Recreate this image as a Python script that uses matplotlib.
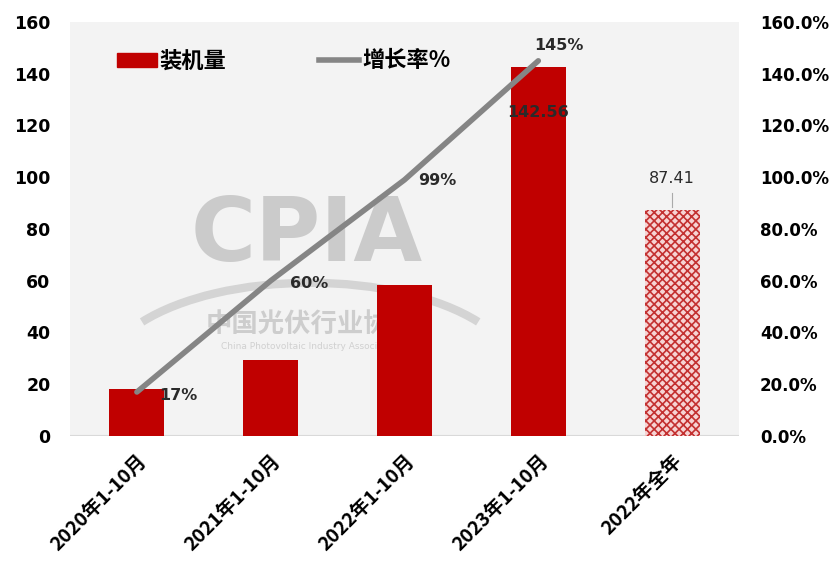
import matplotlib
matplotlib.use("Agg")
import matplotlib.pyplot as plt
import matplotlib.ticker as ticker
from matplotlib.patches import Arc
import numpy as np

plt.rcParams["font.family"] = ["Noto Sans CJK SC", "DejaVu Sans"]
plt.rcParams["hatch.linewidth"] = 1.2

# installed capacity (GW) and year-on-year growth
categories = ["2020年1-10月", "2021年1-10月", "2022年1-10月", "2023年1-10月", "2022年全年"]
capacity   = [18.3, 29.31, 58.24, 142.56, 87.41]
growth     = [0.17, 0.60, 0.99, 1.45]
growth_lbl = ["17%", "60%", "99%", "145%"]

BAR_RED  = "#c00000"
LINE_GRY = "#858585"
NUM_FONT = ["DejaVu Sans"]

fig = plt.figure(figsize=(8.36, 5.68), dpi=100)
fig.patch.set_facecolor("white")
ax = fig.add_axes([0.0837, 0.2324, 0.8003, 0.7289])
ax.set_facecolor("#f3f3f3")

x = np.arange(len(categories))

# association watermark behind the bars
ax.text(1.27, 77, "CPIA", fontsize=64, fontweight="bold",
        color="#cbcbcb", ha="center", va="center", zorder=0, family=NUM_FONT)
ax.add_patch(Arc((0.359, 0.142), 0.62, 0.456, theta1=28, theta2=152, transform=ax.transAxes,
                 color="#d4d4d4", lw=6, zorder=0))
ax.text(1.30, 43.5, "中国光伏行业协会", fontsize=19, fontweight="bold", color="#cdcdcd",
        ha="center", va="center", zorder=0)
ax.text(1.30, 34.5, "China Photovoltaic Industry Association", fontsize=6.5, color="#d0d0d0",
        ha="center", va="center", zorder=0, family=NUM_FONT)

ax.bar(x[:4], capacity[:4], width=0.41, color=BAR_RED, zorder=2)
ax.bar(x[4], capacity[4], width=0.41, facecolor="#f6d3d3", edgecolor="#c33030",
       hatch="xxxx", linewidth=0, zorder=2)

ax.set_xlim(-0.5, 4.5)
ax.set_ylim(0, 160)
ax.set_yticks(np.arange(0, 161, 20))
ax.set_xticks(x)
ax.set_xticklabels(categories, rotation=45, ha="right", va="top", rotation_mode="anchor",
                   fontsize=14, fontweight="heavy")
ax.tick_params(axis="both", length=0)
ax.tick_params(axis="x", pad=11)
ax.tick_params(axis="y", pad=14)
for lbl in ax.get_yticklabels():
    lbl.set_fontweight("bold")
    lbl.set_fontsize(12.5)
    lbl.set_family(NUM_FONT)
for s in ax.spines.values():
    s.set_visible(False)
ax.axhline(0, color="#d9d9d9", lw=1.5, zorder=1)

# value labels
ax.text(x[3], 125.2, f"{capacity[3]:.2f}", ha="center", va="center",
        fontsize=11.5, fontweight="bold", color="#2a2a2a", zorder=4, family=NUM_FONT)
ax.text(x[4], 99.7, f"{capacity[4]:.2f}", ha="center", va="center",
        fontsize=11.5, color="#2a2a2a", zorder=4, family=NUM_FONT)
ax.plot([x[4], x[4]], [capacity[4] + 1, capacity[4] + 6.5], color="#aaaaaa", lw=0.8)

ax2 = ax.twinx()
ax2.set_ylim(0, 1.6)
ax2.set_yticks(np.arange(0, 1.61, 0.2))
ax2.yaxis.set_major_formatter(ticker.FuncFormatter(lambda v, p: f"{v * 100:.1f}%"))
ax2.tick_params(axis="y", length=0, pad=15)
for lbl in ax2.get_yticklabels():
    lbl.set_fontweight("bold")
    lbl.set_fontsize(12)
    lbl.set_family(NUM_FONT)
for s in ax2.spines.values():
    s.set_visible(False)

ax2.plot(x[:4], growth, color=LINE_GRY, lw=4, solid_capstyle="round", zorder=3)
label_pos = [(0.306, 0.158), (1.29, 0.591), (2.246, 0.989), (3.157, 1.511)]
for (lx, ly), t in zip(label_pos, growth_lbl):
    ax2.text(lx, ly, t, ha="center", va="center", fontsize=11.5, fontweight="bold",
             color="#2a2a2a", family=NUM_FONT)

# legend
handles = [plt.Rectangle((0, 0), 1, 1, color=BAR_RED),
           plt.Line2D([0], [0], color=LINE_GRY, lw=4)]
ax.legend(handles, ["装机量", "增长率%"], loc="upper left", bbox_to_anchor=(0.04, 0.982),
          ncol=2, frameon=False, handlelength=1.8, handleheight=0.6, handletextpad=0.12,
          columnspacing=4.2, prop={"weight": "bold", "size": 16})

fig.savefig("out.png", dpi=100)
